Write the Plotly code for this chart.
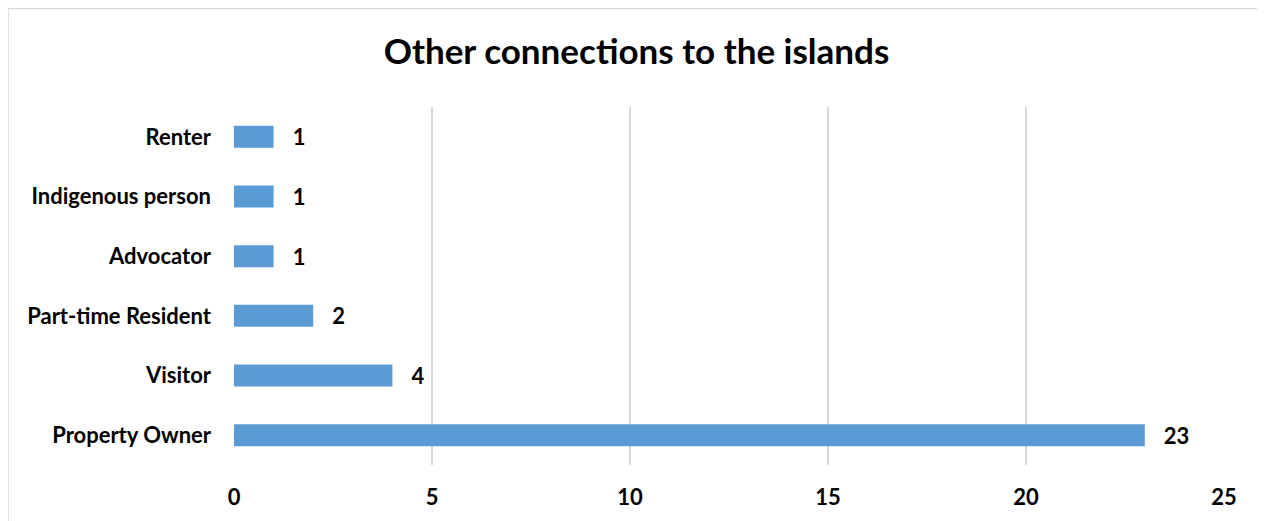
import plotly.graph_objects as go

categories = ["Property Owner", "Visitor", "Part-time Resident", "Advocator", "Indigenous person", "Renter"]
values = [23, 4, 2, 1, 1, 1]
x_ticks = [0, 5, 10, 15, 20, 25]

FONT = "Lato, Carlito, Calibri, sans-serif"

fig = go.Figure(go.Bar(
    x=values, y=categories, orientation="h",
    marker=dict(color="#5b9bd5", line=dict(width=0)),
    text=[f"   {v}" for v in values], textposition="outside", constraintext="none",
    textfont=dict(family=FONT, size=22, color="black", weight="bold"),
    cliponaxis=False,
))

# page is offset by 8px body margin
W, H = 1257, 513
L, R, T, B = 226, 41, 99, 56
pw, ph = W - L - R, H - T - B

fig.update_layout(
    width=W, height=H,
    margin=dict(l=L, r=R, t=T, b=B),
    paper_bgcolor="white", plot_bgcolor="white",
    bargap=0.63,
    showlegend=False,
    title=dict(text="<b>Other connections to the islands</b>", x=0.5, xref="container", xanchor="center",
               y=1 - 44 / H, yref="container", yanchor="middle",
               font=dict(family=FONT, size=35, color="black")),
    font=dict(family=FONT, color="black"),
    xaxis=dict(range=[0, 25], tickvals=x_ticks, showgrid=True, gridcolor="#d9d9d9", gridwidth=1.5,
               zeroline=False, showline=False, ticks="",
               tickfont=dict(family=FONT, size=22, color="black", weight="bold"), ticklabelstandoff=17),
    yaxis=dict(showgrid=False, zeroline=False, showline=False, ticks="",
               tickfont=dict(family=FONT, size=22, color="black", weight="bold"), ticklabelstandoff=22),
    shapes=[dict(type="rect", xref="paper", yref="paper",
                 x0=(0 - L) / pw, x1=(1255 - L) / pw,
                 y0=(H - B - 530) / ph, y1=(H - B - 0.5) / ph,
                 line=dict(color="#d9d9d9", width=1.5), fillcolor="rgba(0,0,0,0)", layer="below")],
)

fig.write_html("out.html")
